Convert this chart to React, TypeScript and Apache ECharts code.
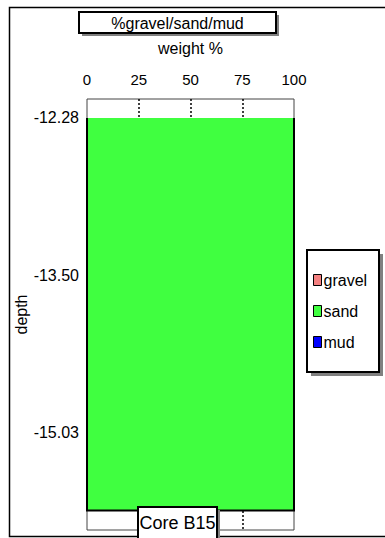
import React, { useEffect, useRef } from 'react';
import * as echarts from 'echarts';

const components = ['gravel', 'sand', 'mud'];
const componentColors = ['#f48080', '#40ff40', '#0000ff'];
// sample position along the core (index), last entry = end of the lowest interval
const samplePositions = [0, 1, 2, 2.5];
const depthLabels = ['-12.28', '-13.50', '-15.03'];
const gravel = [0, 0, 0, 0];
const sand = [100, 100, 100, 100];
const mud = [0, 0, 0, 0];
const xTicks = [0, 25, 50, 75, 100];

const FONT = 'Liberation Sans, Arial, sans-serif';

export default function App() {
  const ref = useRef<HTMLDivElement>(null);

  useEffect(() => {
    if (!ref.current) return;
    const chart = echarts.init(ref.current, undefined, { renderer: 'svg' });
    const values = [gravel, sand, mud];

    const series = components.map((name, k) => {
      const left = samplePositions.map((_, i) =>
        values.slice(0, k).reduce((s, a) => s + a[i], 0)
      );
      const right = left.map((l, i) => l + values[k][i]);
      return {
        type: 'custom',
        name,
        coordinateSystem: 'cartesian2d',
        clip: false,
        itemStyle: { color: componentColors[k], borderColor: '#000', borderWidth: 1 },
        data: samplePositions.map((p, i) => [right[i], p]),
        encode: { x: 0, y: 1 },
        renderItem: (params: any, api: any) => {
          if (params.dataIndex !== 0) return null;
          const rightPts = samplePositions.map((p, i) => api.coord([right[i], p]));
          const leftPts = samplePositions.map((p, i) => api.coord([left[i], p]));
          const poly = [...rightPts, ...leftPts.slice().reverse()];
          const outline = [...leftPts, ...rightPts.slice().reverse()];
          return {
            type: 'group',
            children: [
              {
                type: 'polygon',
                shape: { points: poly },
                style: { fill: componentColors[k], stroke: null },
              },
              {
                type: 'polyline',
                shape: { points: outline },
                style: { fill: null, stroke: '#000', lineWidth: 2 },
              },
            ],
          };
        },
      };
    });

    const option: any = {
      animation: false,
      backgroundColor: '#fff',
      textStyle: { fontFamily: FONT },
      grid: {
        left: 87,
        right: 91,
        top: 99,
        bottom: 8,
        show: true,
        backgroundColor: '#fff',
        borderColor: '#444',
        borderWidth: 1,
      },
      xAxis: {
        type: 'value',
        position: 'top',
        min: xTicks[0],
        max: xTicks[xTicks.length - 1],
        interval: 25,
        name: 'weight %',
        nameLocation: 'middle',
        nameGap: 43,
        nameMoveOverlap: false,
        nameTextStyle: { fontSize: 16, color: '#000', fontFamily: FONT },
        axisLine: { show: false },
        axisTick: { show: false },
        axisLabel: { margin: 12, fontSize: 15, color: '#000', fontFamily: FONT },
        splitLine: {
          show: true,
          showMinLine: false,
          showMaxLine: false,
          lineStyle: { type: [2, 2], color: '#000', width: 1.5 },
        },
      },
      yAxis: {
        type: 'value',
        inverse: true,
        min: -0.121,
        max: 2.624,
        name: 'depth',
        nameLocation: 'middle',
        nameGap: 58,
        nameMoveOverlap: false,
        nameRotate: 90,
        nameTextStyle: { fontSize: 16, color: '#000', fontFamily: FONT },
        axisLine: { show: false },
        axisTick: { show: false },
        splitLine: { show: false },
        axisLabel: {
          customValues: depthLabels.map((_, i) => samplePositions[i]),
          formatter: (v: number) => depthLabels[Math.round(v)] ?? '',
          margin: 8,
          fontSize: 16,
          color: '#000',
          fontFamily: FONT,
        },
      },
      legend: {
        orient: 'vertical',
        left: 313,
        top: 272,
        itemWidth: 8,
        itemHeight: 11,
        itemGap: 15,
        padding: 0,
        icon: 'rect',
        itemStyle: { borderColor: '#000', borderWidth: 1 },
        textStyle: { fontSize: 16, color: '#000', fontFamily: FONT, padding: [0, 0, 0, -3], lineHeight: 16 },
        data: components,
      },
      graphic: [
        {
          type: 'rect',
          z: 0,
          shape: { x: 9.5, y: 7.5, width: 390, height: 529 },
          style: { fill: null, stroke: '#000', lineWidth: 1.5 },
        },
        // title box
        { type: 'rect', z: 50, shape: { x: 82, y: 15, width: 197, height: 21 }, style: { fill: '#808080' } },
        {
          type: 'rect',
          z: 51,
          shape: { x: 79, y: 12, width: 197, height: 21 },
          style: { fill: '#fff', stroke: '#000', lineWidth: 2 },
        },
        {
          type: 'text',
          z: 52,
          x: 177.5,
          y: 23,
          style: {
            text: '%gravel/sand/mud',
            fontSize: 16,
            fontFamily: FONT,
            fill: '#000',
            align: 'center',
            verticalAlign: 'middle',
          },
        },
        // legend box
        { type: 'rect', z: 1, shape: { x: 311, y: 254, width: 72, height: 122 }, style: { fill: '#808080' } },
        {
          type: 'rect',
          z: 2,
          shape: { x: 307, y: 250, width: 72, height: 122 },
          style: { fill: '#fff', stroke: '#000', lineWidth: 2 },
        },
        // core label box
        { type: 'rect', z: 50, shape: { x: 141, y: 510, width: 79, height: 40 }, style: { fill: '#808080' } },
        {
          type: 'rect',
          z: 51,
          shape: { x: 138, y: 507, width: 79, height: 40 },
          style: { fill: '#fff', stroke: '#000', lineWidth: 2 },
        },
        {
          type: 'text',
          z: 52,
          x: 177.5,
          y: 523,
          style: {
            text: 'Core B15',
            fontSize: 18,
            fontFamily: FONT,
            fill: '#000',
            align: 'center',
            verticalAlign: 'middle',
          },
        },
      ],
      series,
    };

    chart.setOption(option);
    return () => chart.dispose();
  }, []);

  return (
    <div
      ref={ref}
      style={{ position: 'fixed', left: 0, top: 0, width: 385, height: 538 }}
    />
  );
}
